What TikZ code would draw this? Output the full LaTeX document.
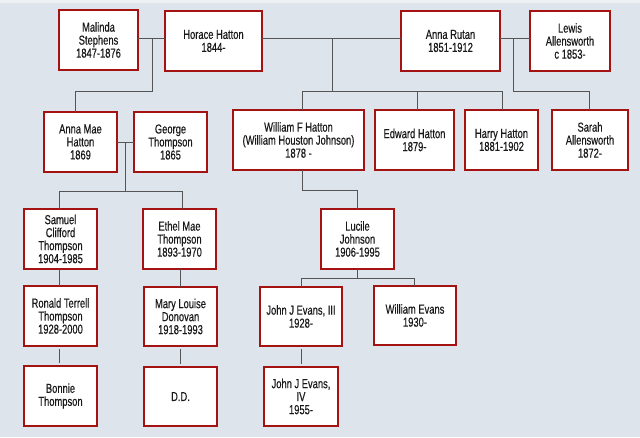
\documentclass[tikz,border=0pt]{standalone}
\usepackage{fontspec}
\setmainfont{Liberation Sans}[FakeStretch=0.72,FakeBold=0.4]
\definecolor{bg}{RGB}{221,228,235}
\definecolor{topband}{RGB}{238,241,244}
\definecolor{boxred}{RGB}{165,18,18}
\definecolor{linkgray}{RGB}{85,85,85}
\definecolor{txt}{RGB}{25,25,25}
\tikzset{
  pbox/.style={draw=boxred, line width=2.2pt, fill=white, inner sep=0pt, outer sep=0pt,
    align=center, text=txt, font=\fontsize{13}{13}\selectfont},
  link/.style={draw=linkgray, line width=1pt},
}
\newcommand{\pbox}[6]{%
  \node[pbox, minimum width={#4-#2}, minimum height={#5-#3}] (#1) at ({(#2+#4)/2},{(#3+#5)/2}) {#6};}
\begin{document}
\begin{tikzpicture}[x=1pt,y=-1pt]
\fill[bg] (0,0) rectangle (640,437);
\fill[topband] (0,0) rectangle (640,3);
\useasboundingbox (0,0) rectangle (640,437);

% row 1
\pbox{ms}{59}{10}{138}{70}{Malinda\\Stephens\\1847-1876}
\pbox{hh}{165}{11}{262}{71}{Horace Hatton\\1844-}
\pbox{ar}{401}{11}{500}{71}{Anna Rutan\\1851-1912}
\pbox{la}{530}{11}{610}{71}{Lewis\\Allensworth\\c 1853-}
% row 2
\pbox{amh}{44}{112}{117}{172}{Anna Mae\\Hatton\\1869}
\pbox{gt}{134}{112}{207}{172}{George\\Thompson\\1865}
\pbox{wfh}{233}{110}{364}{170}{William F Hatton\\(William Houston Johnson)\\1878 -}
\pbox{eh}{375}{110}{454}{170}{Edward Hatton\\1879-}
\pbox{hah}{465}{110}{538}{170}{Harry Hatton\\1881-1902}
\pbox{sa}{552}{110}{628}{170}{Sarah\\Allensworth\\1872-}
% row 3
\pbox{sct}{24}{209}{97}{269}{Samuel\\Clifford\\Thompson\\1904-1985}
\pbox{emt}{143}{209}{216}{269}{Ethel Mae\\Thompson\\1893-1970}
\pbox{lj}{321}{209}{394}{269}{Lucile\\Johnson\\1906-1995}
% row 4
\pbox{rtt}{24}{286}{97}{346}{Ronald Terrell\\Thompson\\1928-2000}
\pbox{mld}{144}{287}{217}{346}{Mary Louise\\Donovan\\1918-1993}
\pbox{jje}{260}{287}{342}{346}{John J Evans, III\\1928-}
\pbox{we}{374}{286}{456}{345}{William Evans\\1930-}
% row 5
\pbox{bt}{24}{366}{97}{426}{Bonnie\\Thompson}
\pbox{dd}{144}{367}{217}{426}{D.D.}
\pbox{jjf}{264}{367}{338}{426}{John J Evans,\\IV\\1955-}

% couples
\coordinate (m1) at (152,38);
\coordinate (m2) at (332,38);
\coordinate (m3) at (513,38);
\coordinate (m4) at (125,142);
\draw[link] (ms.east |- m1) -- (hh.west |- m1);
\draw[link] (hh.east |- m2) -- (ar.west |- m2);
\draw[link] (ar.east |- m3) -- (la.west |- m3);
\draw[link] (amh.east |- m4) -- (gt.west |- m4);

% children of Malinda + Horace
\draw[link] (m1) -- (152,91) -| (amh.north -| 75,0);
% children of Horace + Anna Rutan
\draw[link] (m2) -- (332,91);
\draw[link] (wfh.north -| 302,0) -- (302,91) -- (502,91) -- (hah.north -| 502,0);
\draw[link] (417,91) -- (eh.north -| 417,0);
% children of Anna Rutan + Lewis
\draw[link] (m3) -- (513,91) -| (sa.north -| 589,0);
% children of Anna Mae + George
\draw[link] (m4) -- (125,191);
\draw[link] (sct.north -| 59,0) -- (59,191) -- (182,191) -- (emt.north -| 182,0);
% William F -> Lucile
\draw[link] (wfh.south -| 302,0) -- (302,190) -| (lj.north -| 357,0);
% Lucile -> children
\draw[link] (lj.south -| 357,0) -- (357,278);
\draw[link] (jje.north -| 301,0) -- (301,278) -- (414,278) -- (we.north -| 414,0);
% single lines
\draw[link] (sct.south -| 59,0) -- (rtt.north -| 59,0);
\draw[link, shorten <=3pt, shorten >=3pt] (rtt.south -| 59,0) -- (bt.north -| 59,0);
\draw[link] (emt.south -| 180,0) -- (mld.north -| 180,0);
\draw[link, shorten <=3pt, shorten >=3pt] (mld.south -| 180,0) -- (dd.north -| 180,0);
\draw[link, shorten <=3pt, shorten >=3pt] (jje.south -| 301,0) -- (jjf.north -| 301,0);
\end{tikzpicture}
\end{document}
